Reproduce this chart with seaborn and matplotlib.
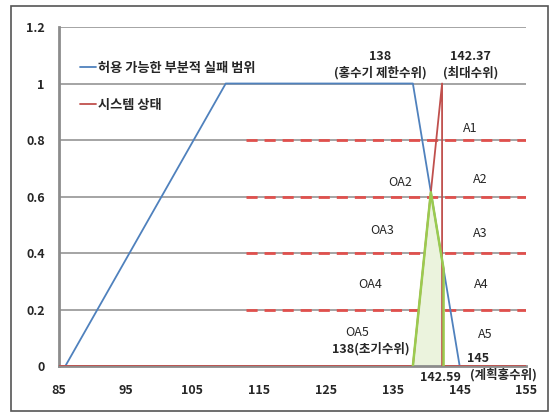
import matplotlib
matplotlib.use("Agg")
import matplotlib.pyplot as plt
import seaborn as sns
import numpy as np
import pandas as pd
from matplotlib.patches import Rectangle

sns.set_style("white")
plt.rcParams['font.family'] = ['Noto Sans CJK KR', 'DejaVu Sans']
plt.rcParams['font.size'] = 9

# data
allow_x = [86, 110, 138, 145]
allow_y = [0, 1, 1, 0]
state_x = [85, 138, 142.37, 142.37, 155]
state_y = [0, 0, 1, 0, 0]
level_y = [0.2, 0.4, 0.6, 0.8]
level_x = [113, 155]
fill_x = [138, 140.69, 142.59, 142.59]
fill_y = [0, 0.615, 0.344, 0]
a_labels = ["A1", "A2", "A3", "A4", "A5"]
a_pos = [(146.6, 0.84), (148.1, 0.66), (148.1, 0.47), (148.2, 0.29), (148.8, 0.11)]
oa_labels = ["OA2", "OA3", "OA4", "OA5"]
oa_pos = [(136.1, 0.65), (133.4, 0.48), (131.6, 0.29), (129.7, 0.12)]

allow = pd.DataFrame({"x": allow_x, "y": allow_y})
state = pd.DataFrame({"x": state_x, "y": state_y})

fig = plt.figure(figsize=(5.51, 4.13), dpi=100)
ax = fig.add_axes([0.1065, 0.1138, 0.849, 0.8208])

# gridlines
for v in [0.2, 0.4, 0.6, 0.8, 1.0, 1.2]:
    ax.axhline(v, color="#8c8c8c", lw=1.1, zorder=0)

# red dashed levels
for v in level_y:
    ax.plot(level_x, [v, v], color="#e0504d", lw=2, ls=(0, (4, 2.5)), zorder=1)

sns.lineplot(data=allow, x="x", y="y", sort=False, estimator=None, ax=ax, color="#4f81bd", lw=1.3,
             label="허용 가능한 부분적 실패 범위", zorder=3)
sns.lineplot(data=state, x="x", y="y", sort=False, estimator=None, ax=ax, color="#c0504d", lw=1.3,
             label="시스템 상태", zorder=3)

# green shaded zone, drawn over the state line
ax.fill(fill_x, fill_y, color="#ebf3dd", zorder=2)
ax.plot(fill_x, fill_y, color="#9bcb4f", lw=1.8, zorder=4)

ax.set_xlim(85, 155)
ax.set_ylim(0, 1.2)
ax.set_xticks(range(85, 156, 10))
ax.set_yticks([0, 0.2, 0.4, 0.6, 0.8, 1, 1.2])
ax.set_yticklabels(["0", "0.2", "0.4", "0.6", "0.8", "1", "1.2"])
ax.set_xlabel("")
ax.set_ylabel("")
for s in ["top", "right"]:
    ax.spines[s].set_visible(False)
ax.spines["left"].set_color("#8c8c8c")
ax.spines["left"].set_linewidth(2)
ax.spines["bottom"].set_color("#8c8c8c")
ax.spines["bottom"].set_linewidth(2)
ax.tick_params(axis="both", length=4, width=1.5, color="#8c8c8c", labelsize=9, pad=6)
ax.tick_params(axis="x", pad=9)
for t in ax.get_xticklabels() + ax.get_yticklabels():
    t.set_fontweight("bold")

leg = ax.legend(loc="upper left", bbox_to_anchor=(0.02, 0.935), frameon=False,
                handlelength=1.2, handletextpad=0.15, labelspacing=1.75,
                prop={"size": 9.5, "weight": "bold"})

for lab, (x, y) in zip(a_labels, a_pos):
    ax.text(x, y, lab, ha="center", va="center", fontsize=9)
for lab, (x, y) in zip(oa_labels, oa_pos):
    ax.text(x, y, lab, ha="center", va="center", fontsize=9)

ax.text(133.1, 1.094, "138", ha="center", va="center", fontsize=9, fontweight="bold")
ax.text(133.1, 1.037, "(홍수기 제한수위)", ha="center", va="center", fontsize=9, fontweight="bold")
ax.text(146.6, 1.094, "142.37", ha="center", va="center", fontsize=9, fontweight="bold")
ax.text(146.6, 1.037, "(최대수위)", ha="center", va="center", fontsize=9, fontweight="bold")
ax.text(137.5, 0.06, "138(초기수위)", ha="right", va="center", fontsize=9, fontweight="bold")
ax.text(142.1, -0.04, "142.59", ha="center", va="center", fontsize=9, fontweight="bold", clip_on=False)
ax.text(147.8, 0.025, "145", ha="center", va="center", fontsize=9, fontweight="bold", clip_on=False)
ax.text(151.6, -0.03, "(계획홍수위)", ha="center", va="center", fontsize=9, fontweight="bold", clip_on=False)

fig.patches.append(Rectangle((11 / 551, 2 / 413), 537 / 551, 405 / 413, transform=fig.transFigure,
                             fill=False, edgecolor="#555555", lw=1.2))

fig.savefig("out.png", dpi=100)
